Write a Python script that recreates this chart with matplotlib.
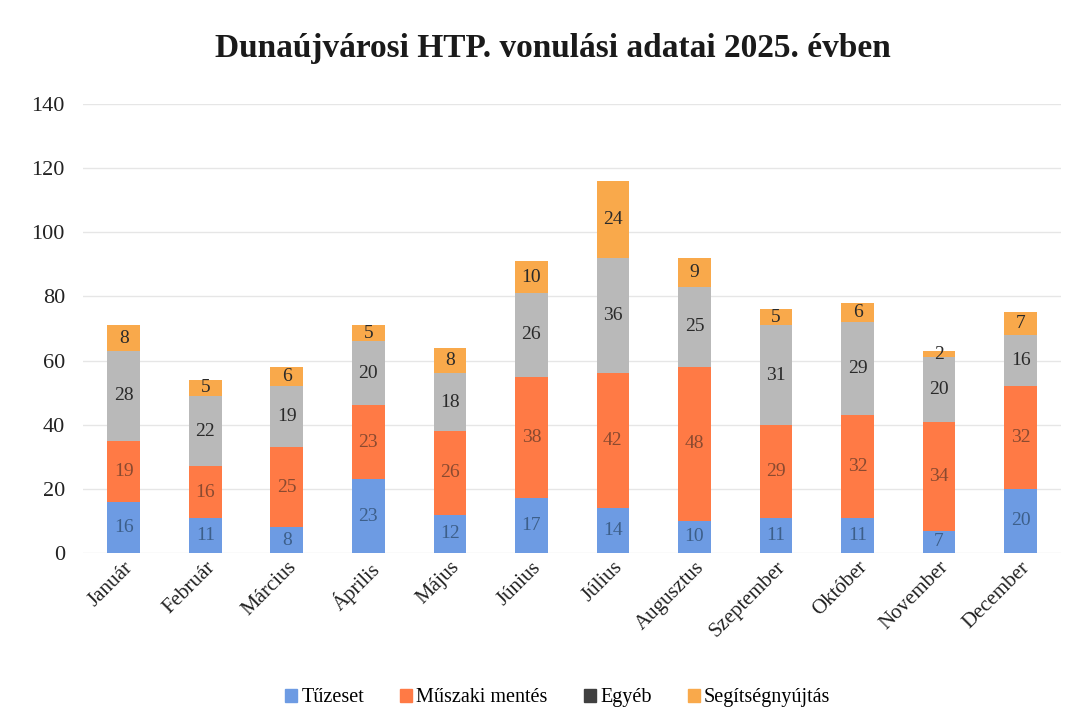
import numpy as np
import matplotlib.pyplot as plt

plt.rcParams['font.family'] = ['Liberation Serif', 'DejaVu Serif']

months = ['Január', 'Február', 'Március', 'Április', 'Május', 'Június',
          'Július', 'Augusztus', 'Szeptember', 'Október', 'November', 'December']
tuzeset = [16, 11, 8, 23, 12, 17, 14, 10, 11, 11, 7, 20]
muszaki = [19, 16, 25, 23, 26, 38, 42, 48, 29, 32, 34, 32]
egyeb = [28, 22, 19, 20, 18, 26, 36, 25, 31, 29, 20, 16]
segitseg = [8, 5, 6, 5, 8, 10, 24, 9, 5, 6, 2, 7]

series = [
    ('Tűzeset', tuzeset, '#6d9be3', '#3d5f8a'),
    ('Műszaki mentés', muszaki, '#ff7a45', '#8a4a30'),
    ('Egyéb', egyeb, '#b9b9b9', '#2a2a2a'),
    ('Segítségnyújtás', segitseg, '#f9a94b', '#2a2a2a'),
]
legend_colors = ['#6d9be3', '#ff7a45', '#404040', '#f9a94b']

fig = plt.figure(figsize=(10.83, 7.27), dpi=100)
ax = fig.add_axes([0.0766, 0.2393, 0.9034, 0.6177])

x = np.arange(len(months))
bottom = np.zeros(len(months))
handles = []
for (name, vals, color, tcolor), lc in zip(series, legend_colors):
    vals = np.array(vals)
    ax.bar(x, vals, 0.4, bottom=bottom, color=color, zorder=2)
    for xi, b, v in zip(x, bottom, vals):
        ax.text(xi, b + v / 2, str(v), ha='center', va='center',
                fontsize=14, color=tcolor, zorder=3)
    bottom += vals
    handles.append(plt.Rectangle((0, 0), 1, 1, color=lc, label=name))

ax.set_xlim(-0.5, len(months) - 0.5)
ax.set_ylim(0, 140)
ax.set_yticks(range(0, 141, 20))
ax.yaxis.grid(True, color='#e6e6e6', linewidth=1, zorder=0)
ax.set_axisbelow(True)
for s in ax.spines.values():
    s.set_visible(False)
ax.tick_params(axis='both', length=0, colors='#222222')
ax.tick_params(axis='y', pad=13, labelsize=16)
ax.set_xticks(x)
ax.set_xticklabels(months, rotation=45, ha='right', rotation_mode='anchor', fontsize=15)

fig.text(553 / 1083, 1 - 48 / 727, 'Dunaújvárosi HTP. vonulási adatai 2025. évben',
         ha='center', va='center', fontsize=24, fontweight='bold', color='#1a1a1a')

fig.legend(handles=handles, loc='center', bbox_to_anchor=(0.515, 0.04), ncol=4,
           frameon=False, fontsize=14.5, handlelength=0.6, handleheight=0.6,
           handletextpad=0.2, columnspacing=1.8)

fig.savefig('out.png', dpi=100)
